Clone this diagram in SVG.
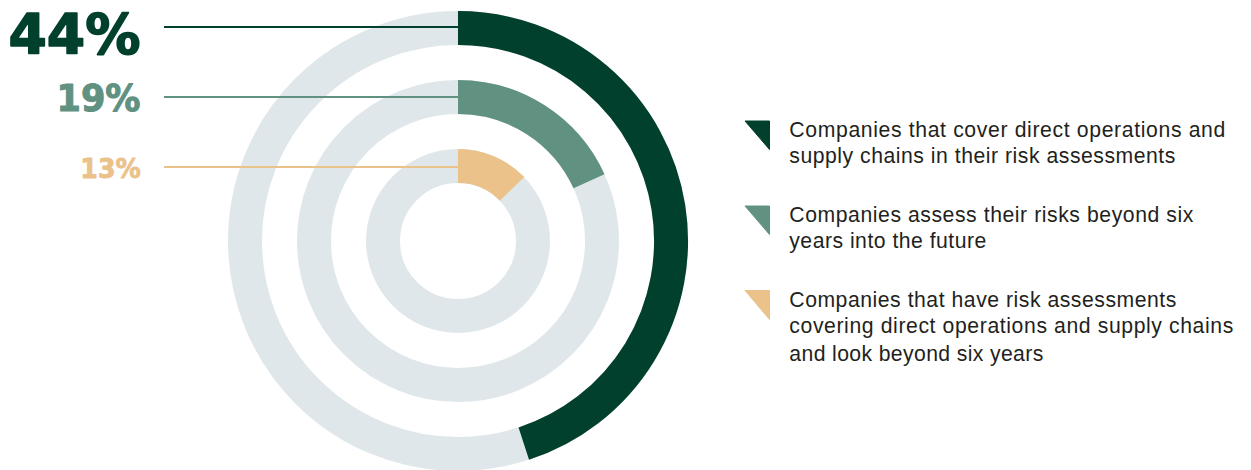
<svg xmlns="http://www.w3.org/2000/svg" width="1251" height="470" viewBox="0 0 1251 470">
  <style>
    .track { fill: none; stroke: #E0E7EA; stroke-width: 34; }
    .arc { fill: none; stroke-width: 34; stroke-linecap: butt; }
    .pct { font-family: "DejaVu Sans", "Liberation Sans", Arial, sans-serif; font-weight: bold; text-anchor: start; stroke-linejoin: round; }
    .leg { font-family: "Liberation Sans", Arial, sans-serif; font-size: 21.2px; fill: #231F20; }
    .c1 { stroke: #02402E; fill: #02402E; }
    .c2 { stroke: #609181; fill: #609181; }
    .c3 { stroke: #EAC28A; fill: #EAC28A; }
  </style>
  <rect width="1251" height="470" fill="#FFFFFF"/>

  <g id="ring-outer">
    <circle class="track" cx="458" cy="241" r="213"/>
    <path class="arc" stroke="#02402E" d="M458,28 A213,213 0 0 1 523.8,443.6"/>
  </g>
  <g id="ring-middle">
    <circle class="track" cx="458" cy="241" r="144"/>
    <path class="arc" stroke="#609181" d="M458,97 A144,144 0 0 1 589,181.3"/>
  </g>
  <g id="ring-inner">
    <circle class="track" cx="458" cy="241" r="75"/>
    <path class="arc" stroke="#EAC28A" d="M458,166 A75,75 0 0 1 512,188.9"/>
  </g>

  <g id="connectors">
    <line x1="164" y1="27" x2="458" y2="27" stroke="#02402E" stroke-width="2"/>
    <line x1="164" y1="97" x2="458" y2="97" stroke="#609181" stroke-width="2"/>
    <line x1="164" y1="167" x2="458" y2="167" stroke="#EAC28A" stroke-width="2"/>
  </g>

  <g id="label-44">
    <text class="pct c1" x="8.5" y="52.8" font-size="55" stroke-width="1.6" textLength="132" lengthAdjust="spacingAndGlyphs">44%</text>
  </g>
  <g id="label-19">
    <text class="pct c2" x="56.5" y="110.6" font-size="37.5" stroke-width="1.1" textLength="84" lengthAdjust="spacingAndGlyphs">19%</text>
  </g>
  <g id="label-13">
    <text class="pct c3" x="80.3" y="178" font-size="27.2" stroke-width="0.8" textLength="60.5" lengthAdjust="spacingAndGlyphs">13%</text>
  </g>

  <g id="legend-1">
    <polygon class="c1" points="745,121 769.5,121 769.5,149.5"/>
    <text class="leg" x="789.3" y="136.7" textLength="436" lengthAdjust="spacing">Companies that cover direct operations and</text>
    <text class="leg" x="789.3" y="163.3" textLength="386" lengthAdjust="spacing">supply chains in their risk assessments</text>
  </g>
  <g id="legend-2">
    <polygon class="c2" points="745,206 769.5,206 769.5,234.5"/>
    <text class="leg" x="789.3" y="221.7" textLength="404" lengthAdjust="spacing">Companies assess their risks beyond six</text>
    <text class="leg" x="789.3" y="248.3" textLength="197" lengthAdjust="spacing">years into the future</text>
  </g>
  <g id="legend-3">
    <polygon class="c3" points="745,290.5 769.5,290.5 769.5,319.5"/>
    <text class="leg" x="789.3" y="306.7" textLength="387" lengthAdjust="spacing">Companies that have risk assessments</text>
    <text class="leg" x="789.3" y="333.3" textLength="444" lengthAdjust="spacing">covering direct operations and supply chains</text>
    <text class="leg" x="789.3" y="361" textLength="254" lengthAdjust="spacing">and look beyond six years</text>
  </g>
</svg>
